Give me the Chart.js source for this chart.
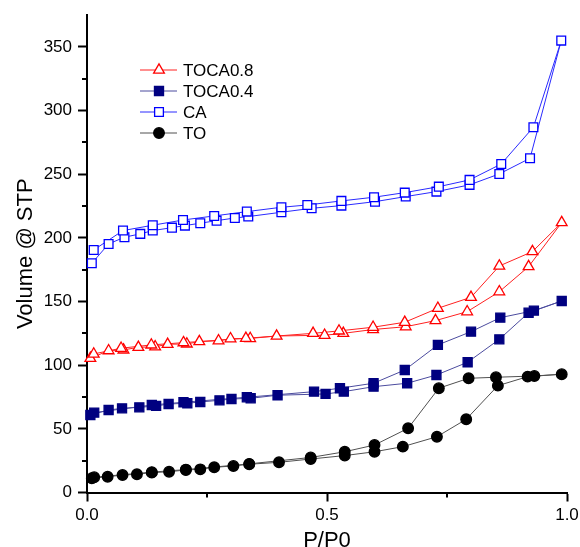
<!DOCTYPE html>
<html>
<head>
<meta charset="utf-8">
<script src="https://cdn.jsdelivr.net/npm/chart.js@4/dist/chart.umd.min.js"></script>
<style>
  html, body { margin: 0; padding: 0; background: #fff; }
  #wrap { width: 580px; height: 547px; position: relative; }
</style>
</head>
<body>
<div id="wrap"><canvas id="iso"></canvas></div>
<script>
// Isotherms: adsorption branch then desorption branch, P/P0 vs volume
const seriesNames = ['TOCA0.8', 'TOCA0.4', 'CA', 'TO'];

// TOCA0.8
const toca08AdsP = [0.007, 0.045, 0.076, 0.107, 0.142, 0.168, 0.208, 0.234, 0.274, 0.299, 0.340, 0.395, 0.495, 0.534, 0.596, 0.664, 0.726, 0.792, 0.859, 0.920, 0.989];
const toca08AdsV = [105.4, 111.4, 112.0, 114.0, 114.5, 116.4, 116.7, 118.5, 119.2, 120.8, 121.0, 122.9, 123.5, 125.0, 128.0, 130.2, 135.0, 142.0, 157.7, 177.4, 212.0];
const toca08DesP = [0.928, 0.859, 0.800, 0.731, 0.662, 0.596, 0.525, 0.471, 0.331, 0.201, 0.134, 0.071, 0.014];
const toca08DesV = [189.2, 177.9, 153.3, 144.7, 133.7, 129.8, 126.9, 125.0, 121.1, 117.7, 115.9, 113.3, 108.8];

// TOCA0.4
const toca04AdsP = [0.007, 0.045, 0.073, 0.109, 0.144, 0.170, 0.209, 0.236, 0.276, 0.301, 0.341, 0.397, 0.497, 0.535, 0.597, 0.667, 0.728, 0.793, 0.859, 0.920, 0.989];
const toca04AdsV = [60.9, 64.8, 66.1, 66.9, 68.0, 69.5, 70.1, 71.1, 72.4, 73.4, 74.0, 76.4, 77.4, 79.2, 83.1, 85.8, 92.3, 102.3, 120.3, 141.2, 150.4];
const toca04DesP = [0.931, 0.861, 0.800, 0.731, 0.662, 0.597, 0.527, 0.473, 0.333, 0.201, 0.135, 0.015];
const toca04DesV = [142.8, 137.3, 126.3, 115.9, 96.2, 85.8, 81.9, 79.2, 74.8, 70.9, 68.7, 62.7];

// CA
const caAdsP = [0.010, 0.045, 0.078, 0.111, 0.137, 0.177, 0.204, 0.236, 0.270, 0.308, 0.336, 0.405, 0.468, 0.530, 0.600, 0.664, 0.728, 0.797, 0.859, 0.923, 0.988];
const caAdsV = [180.0, 195.2, 200.5, 203.1, 205.7, 208.0, 209.6, 211.5, 213.5, 215.6, 216.7, 220.1, 223.2, 225.3, 228.4, 232.4, 236.3, 241.6, 250.2, 262.5, 354.9];
const caDesP = [0.930, 0.863, 0.797, 0.733, 0.662, 0.598, 0.530, 0.459, 0.405, 0.333, 0.265, 0.200, 0.137, 0.075, 0.014];
const caDesV = [286.9, 258.0, 245.5, 240.2, 235.5, 231.9, 229.0, 225.8, 224.0, 220.6, 217.2, 214.0, 209.9, 205.7, 190.5];

// TO
const toAdsP = [0.010, 0.043, 0.074, 0.104, 0.135, 0.171, 0.206, 0.236, 0.265, 0.305, 0.338, 0.400, 0.466, 0.537, 0.599, 0.658, 0.729, 0.790, 0.856, 0.918, 0.989];
const toAdsV = [11.2, 12.4, 13.7, 14.3, 15.6, 16.3, 17.7, 18.2, 19.8, 20.8, 22.2, 23.7, 26.3, 29.0, 32.0, 36.0, 43.8, 57.5, 83.9, 91.0, 92.9];
const toDesP = [0.932, 0.852, 0.795, 0.733, 0.669, 0.599, 0.537, 0.466, 0.338, 0.206, 0.135, 0.015];
const toDesV = [91.5, 90.5, 89.7, 81.9, 50.4, 37.3, 32.0, 27.5, 22.5, 18.0, 16.0, 12.0];

// axis ticks
const xMajor = [0, 0.5, 1.0];
const xMinor = [0.25, 0.75];
const yMajor = [0, 50, 100, 150, 200, 250, 300, 350];
const yMinor = [25, 75, 125, 175, 225, 275, 325];

function loop(adsP, adsV, desP, desV) {
  const pts = adsP.map((p, i) => ({ x: p, y: adsV[i] }));
  return pts.concat(desP.map((p, i) => ({ x: p, y: desV[i] })));
}

const FONT = '"Liberation Sans", Arial, sans-serif';

// marker look per series (also used by the legend)
const looks = [
  { line: '#ff2020', stroke: '#ff0000', fill: '#ffffff', style: 'triangle', r: 6.2 },
  { line: '#4b4b9e', stroke: '#000080', fill: '#000080', style: 'rect', r: 6.4 },
  { line: '#2a2aff', stroke: '#0000ff', fill: '#ffffff', style: 'rect', r: 6.2 },
  { line: '#505050', stroke: '#000000', fill: '#000000', style: 'circle', r: 5.3 }
];

const allData = [
  loop(toca08AdsP, toca08AdsV, toca08DesP, toca08DesV),
  loop(toca04AdsP, toca04AdsV, toca04DesP, toca04DesV),
  loop(caAdsP, caAdsV, caDesP, caDesV),
  loop(toAdsP, toAdsV, toDesP, toDesV)
];

const datasets = seriesNames.map((name, i) => ({
  label: name,
  data: allData[i],
  showLine: true,
  tension: 0,
  borderColor: looks[i].line,
  borderWidth: 1,
  pointStyle: looks[i].style,
  pointRadius: looks[i].r,
  pointHoverRadius: looks[i].r,
  pointBorderColor: looks[i].stroke,
  pointBackgroundColor: looks[i].fill,
  pointBorderWidth: 1.3,
  clip: false
}));

function marker(ctx, style, x, y, r) {
  ctx.beginPath();
  if (style === 'circle') {
    ctx.arc(x, y, r, 0, Math.PI * 2);
  } else if (style === 'rect') {
    const s = r * Math.SQRT1_2;
    ctx.rect(x - s, y - s, 2 * s, 2 * s);
  } else {
    for (let k = 0; k < 3; k++) {
      const a = k * 2 * Math.PI / 3;
      const px = x + Math.sin(a) * r, py = y - Math.cos(a) * r;
      if (k === 0) ctx.moveTo(px, py); else ctx.lineTo(px, py);
    }
    ctx.closePath();
  }
}

const extras = {
  id: 'extras',
  afterDraw(chart) {
    const ctx = chart.ctx;
    const xs = chart.scales.x, ys = chart.scales.y;
    ctx.save();
    // minor ticks
    ctx.strokeStyle = '#000';
    ctx.lineWidth = 2;
    const b = chart.chartArea.bottom, l = chart.chartArea.left;
    xMinor.forEach(v => {
      const px = Math.round(xs.getPixelForValue(v));
      ctx.beginPath(); ctx.moveTo(px, b); ctx.lineTo(px, b + 5); ctx.stroke();
    });
    yMinor.forEach(v => {
      const py = Math.round(ys.getPixelForValue(v));
      ctx.beginPath(); ctx.moveTo(l, py); ctx.lineTo(l - 5, py); ctx.stroke();
    });
    // legend
    const rows = [70, 91, 112, 133];
    seriesNames.forEach((name, i) => {
      const y = rows[i], lk = looks[i];
      ctx.strokeStyle = lk.line;
      ctx.lineWidth = 1;
      ctx.beginPath(); ctx.moveTo(140, y); ctx.lineTo(177, y); ctx.stroke();
      marker(ctx, lk.style, 159, y, lk.r);
      ctx.fillStyle = lk.fill; ctx.fill();
      ctx.strokeStyle = lk.stroke; ctx.lineWidth = 1.3; ctx.stroke();
      ctx.fillStyle = '#000';
      ctx.font = '17px ' + FONT;
      ctx.textAlign = 'left';
      ctx.textBaseline = 'middle';
      ctx.fillText(name, 183, y + 1);
    });
    ctx.restore();
  }
};

new Chart(document.getElementById('iso'), {
  type: 'scatter',
  data: { datasets: datasets },
  options: {
    responsive: true,
    maintainAspectRatio: false,
    animation: false,
    layout: { padding: { left: 0, right: 13, top: 15, bottom: 0 } },
    plugins: { legend: { display: false }, tooltip: { enabled: false } },
    scales: {
      x: {
        type: 'linear', min: 0, max: 1,
        afterBuildTicks: s => { s.ticks = xMajor.map(v => ({ value: v })); },
        afterFit: s => { s.height = 54.5; s.paddingLeft = 0; s.paddingRight = 0; },
        ticks: { color: '#000', font: { family: FONT, size: 17 }, padding: 4, maxRotation: 0, autoSkip: false,
          callback: v => v.toFixed(1) },
        grid: { drawOnChartArea: false, tickLength: 9, tickWidth: 2, tickColor: '#000' },
        border: { color: '#000', width: 2 },
        title: { display: true, text: 'P/P0', color: '#000', font: { family: FONT, size: 22 }, padding: { top: 0, bottom: -7 } }
      },
      y: {
        type: 'linear', min: 0, max: 375,
        afterBuildTicks: s => { s.ticks = yMajor.map(v => ({ value: v })); },
        afterFit: s => { s.width = 87; s.paddingTop = 0; s.paddingBottom = 0; },
        ticks: { color: '#000', font: { family: FONT, size: 17 }, padding: 6, autoSkip: false },
        grid: { drawOnChartArea: false, tickLength: 9, tickWidth: 2, tickColor: '#000' },
        border: { color: '#000', width: 2 },
        title: { display: true, text: 'Volume @ STP', color: '#000', font: { family: FONT, size: 22 }, padding: { top: 13, bottom: 0 } }
      }
    }
  },
  plugins: [extras]
});
</script>
</body>
</html>
